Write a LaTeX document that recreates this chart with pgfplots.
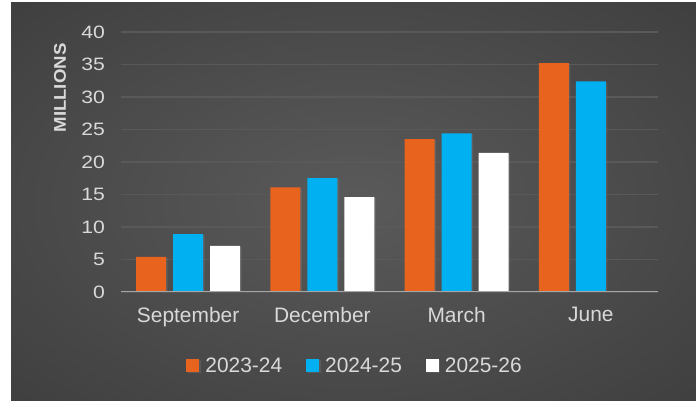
\documentclass[border=0pt]{standalone}
\usepackage{fontspec}
\setmainfont{Liberation Sans}
\newfontfamily\tickfont[FakeStretch=1.18]{Liberation Sans}
\newfontfamily\labfont[FakeStretch=1.1]{Liberation Sans}
\usepackage{pgfplots}
\pgfplotsset{compat=1.18}
\usetikzlibrary{shadows}

\definecolor{bgin}{HTML}{5A5A5A}
\definecolor{bgout}{HTML}{242424}
\definecolor{lbl}{HTML}{D9D9D9}
\definecolor{gridc}{HTML}{595959}
\definecolor{basec}{HTML}{A6A6A6}
\definecolor{s1}{HTML}{E8631E}
\definecolor{s2}{HTML}{00B0F0}
\definecolor{s3}{HTML}{FFFFFF}

\pgfdeclareradialshading{bgshade}{\pgfpoint{0bp}{0bp}}{color(0bp)=(bgin); color(72bp)=(bgout)}

\begin{document}
\begin{tikzpicture}
\fill[white] (0bp,0bp) rectangle (696bp,401bp);
\shade[shading=bgshade] (11bp,0bp) rectangle (696bp,398bp);

\node[rotate=90, text=lbl, font=\labfont\bfseries\fontsize{17}{17}\selectfont] at (60bp,313bp) {MILLIONS};

\begin{axis}[
    at={(121bp,109bp)}, anchor=south west,
    scale only axis,
    width=537bp, height=260bp,
    xmin=-0.5, xmax=3.5, ymin=0, ymax=40,
    ybar=7bp, bar width=30bp,
    xtick={0,1,2,3},
    xticklabels={September,December,March,June},
    ytick={0,5,...,40},
    axis line style={draw=none},
    major tick length=0pt,
    ymajorgrids,
    grid style={color=gridc, line width=1.5bp},
    /pgf/number format/assume math mode=true,
    yticklabel style={font=\tickfont\fontsize{18}{18}\selectfont, text=lbl, inner sep=0pt, xshift=-16bp},
    xticklabel style={font=\fontsize{21}{21}\selectfont, text=lbl, inner sep=0pt, yshift=-15bp},
    every axis plot/.append style={draw=none, /tikz/drop shadow={shadow xshift=1.5bp, shadow yshift=-1bp, opacity=0.3}},
    legend columns=3,
    legend image code/.code={\fill[#1] (0bp,-6.5bp) rectangle (13bp,6.5bp);},
    legend style={
        at={(0.434,-0.2846)}, anchor=center,
        draw=none, fill=none, text=lbl,
        font=\fontsize{21}{21}\selectfont,
        nodes={inner sep=0pt},
        column sep=6bp,
        /tikz/every even column/.append style={column sep=24bp},
    },
]
\addplot[fill=s1] coordinates {(0,5.4) (1,16.1) (2,23.5) (3,35.2)};
\addplot[fill=s2] coordinates {(0,8.9) (1,17.5) (2,24.4) (3,32.4)};
\addplot[fill=s3] coordinates {(0,7.1) (1,14.6) (2,21.4)};
\legend{2023-24,2024-25,2025-26}
\draw[basec, line width=2bp] (axis cs:-0.5,0) -- (axis cs:3.5,0);
\end{axis}
\end{tikzpicture}
\end{document}
